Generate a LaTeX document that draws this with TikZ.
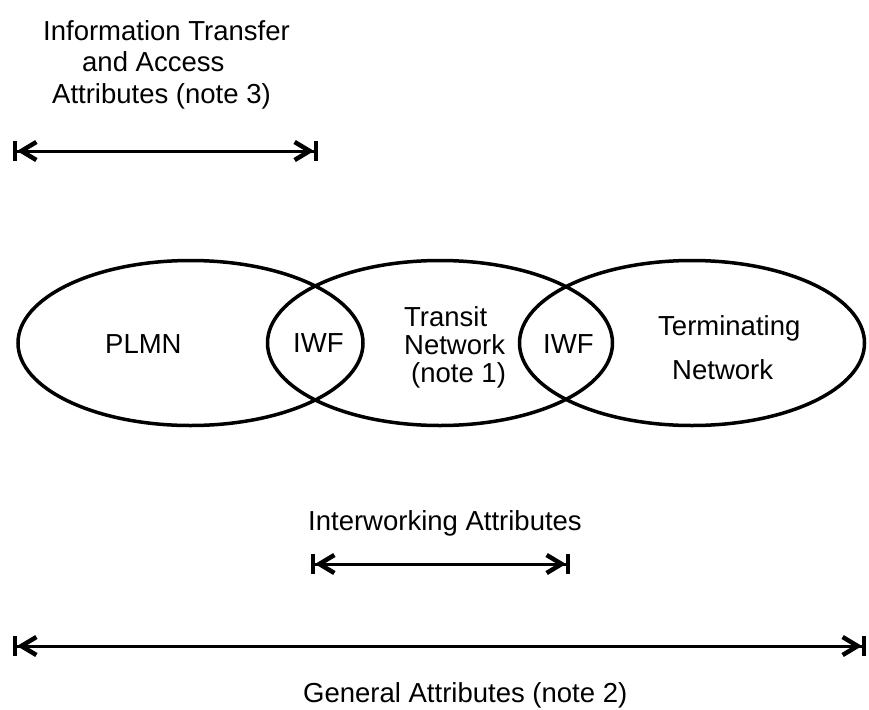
\documentclass[tikz,border=0pt]{standalone}
\usepackage{fontspec}
\setmainfont{Liberation Sans}
\usetikzlibrary{arrows.meta}

\begin{document}
\begin{tikzpicture}[x=1pt,y=-1pt,
    every node/.style={inner sep=0pt,font=\fontsize{27.5}{31.5}\selectfont},
    net/.style={line width=3.5pt},
    spanarrow/.style={line width=3pt,
      {Bar[width=20pt,line width=4pt]Straight Barb[length=15pt,width=18pt,line width=4.5pt]}-{Straight Barb[length=15pt,width=18pt,line width=4.5pt]Bar[width=20pt,line width=4pt]}}]
	\useasboundingbox (0,0) rectangle (869,709);
	% attributes on top
	\node [anchor=base west,align=left] (infotext) at (43,103) {Information Transfer\\\hspace{39pt}and Access\\\hspace{9pt}Attributes (note 3)};
	\coordinate (infoL) at (13,151);
	\coordinate (infoR) at (318,151);
	\draw [spanarrow] (infoL) -- (infoR);
	% the three networks
	\draw [net] (190.5,343) ellipse [x radius=172.5, y radius=82.5];
	\draw [net] (440,343) ellipse [x radius=172.5, y radius=82.5];
	\draw [net] (692,343) ellipse [x radius=172.5, y radius=82.5];
	\node [anchor=base west] (plmn) at (105,353) {PLMN};
	\node [anchor=base west] (iwfa) at (293,352) {IWF};
	\node [anchor=base west,align=left,font=\fontsize{27.5}{28}\selectfont] (transit) at (404,382) {Transit\\Network\\\hspace{7pt}(note 1)};
	\node [anchor=base west] (iwfb) at (543,353) {IWF};
	\node [anchor=base west,align=left,font=\fontsize{27.5}{44}\selectfont] (terminating) at (658,379) {Terminating\\\hspace{14pt}Network};
	% attributes below
	\node [anchor=base west] (iwtext) at (308,530) {Interworking Attributes};
	\coordinate (iwL) at (311,564);
	\coordinate (iwR) at (570,564);
	\draw [spanarrow] (iwL) -- (iwR);
	\coordinate (genL) at (13,646);
	\coordinate (genR) at (866,646);
	\draw [spanarrow] (genL) -- (genR);
	\node [anchor=base west] (gentext) at (303,702) {General Attributes (note 2)};
\end{tikzpicture}
\end{document}
